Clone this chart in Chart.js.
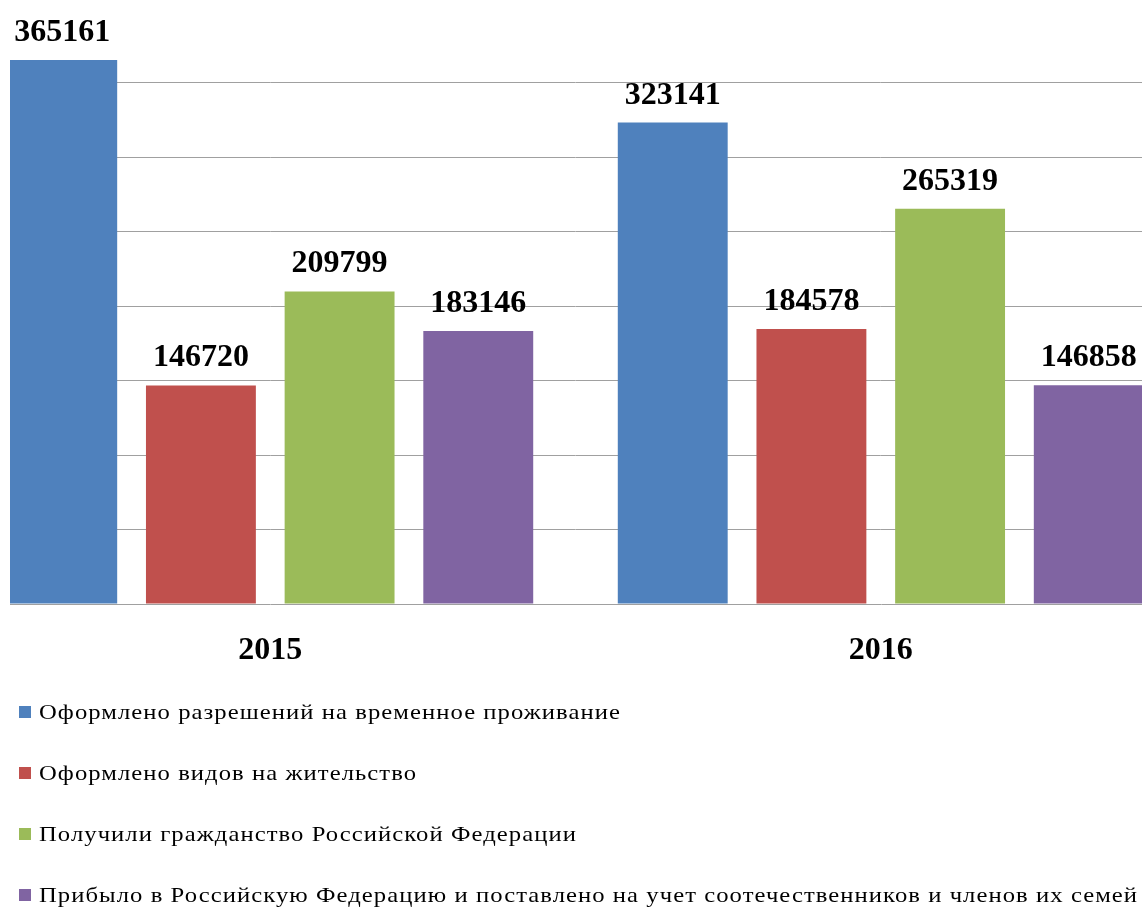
<!DOCTYPE html>
<html>
<head>
<meta charset="utf-8">
<script src="https://cdn.jsdelivr.net/npm/chart.js@4/dist/chart.umd.min.js"></script>
<style>
  html, body { margin: 0; padding: 0; background: #ffffff; width: 1142px; height: 909px; overflow: hidden; position: relative; }
  #clip { position: absolute; left: 10px; top: 0; width: 1132px; height: 690px; overflow: hidden; }
  #c { position: absolute; left: -45px; top: 0; }
  #legend { position: absolute; left: 0; top: 0; width: 1142px; height: 909px; }
  .row { position: absolute; left: 0; height: 30px; white-space: nowrap; }
  .box { position: absolute; left: 19px; top: 9px; width: 12px; height: 12px; }
  .txt { position: absolute; left: 39px; top: 0; line-height: 30px; font-family: 'Liberation Serif', 'Times New Roman', serif; font-size: 22px; letter-spacing: 0.95px; color: #000; transform: scaleX(1.12); transform-origin: 0 50%; }
</style>
</head>
<body>
<div id="clip"><canvas id="c" width="1221" height="690" style="width:1221px;height:690px"></canvas></div>
<div id="legend"></div>
<script>
const categories = ['2015', '2016'];
const seriesNames = [
  'Оформлено разрешений на временное проживание',
  'Оформлено видов на жительство',
  'Получили гражданство Российской Федерации',
  'Прибыло в Российскую Федерацию и поставлено на учет соотечественников и членов их семей'
];
const permitsTemp = [365161, 323141];
const residencePermits = [146720, 184578];
const citizenship = [209799, 265319];
const compatriots = [183146, 146858];
const seriesColors = ['#4F81BD', '#C0504D', '#9BBB59', '#8064A2'];
const yTickStep = 50000;
const yMax = 400000;

const seriesValues = [permitsTemp, residencePermits, citizenship, compatriots];

const dataLabels = {
  id: 'dataLabels',
  afterDatasetsDraw(chart) {
    const ctx = chart.ctx;
    ctx.save();
    ctx.font = 'bold 32px "Liberation Serif", "Times New Roman", serif';
    ctx.fillStyle = '#000';
    ctx.textAlign = 'center';
    ctx.textBaseline = 'alphabetic';
    chart.data.datasets.forEach((ds, i) => {
      const meta = chart.getDatasetMeta(i);
      meta.data.forEach((bar, j) => {
        ctx.fillText(String(ds.data[j]), bar.x, bar.y - 19);
      });
    });
    ctx.restore();
  }
};

new Chart(document.getElementById('c'), {
  type: 'bar',
  data: {
    labels: categories,
    datasets: seriesNames.map((name, i) => ({
      label: name,
      data: seriesValues[i],
      backgroundColor: seriesColors[i],
      borderWidth: 0,
      categoryPercentage: 0.9086,
      barPercentage: 0.7925
    }))
  },
  options: {
    responsive: false,
    animation: false,
    devicePixelRatio: 1,
    layout: { padding: { left: 0, right: 0, top: 8, bottom: 0 } },
    plugins: { legend: { display: false }, tooltip: { enabled: false } },
    scales: {
      x: {
        grid: { display: false, drawTicks: false },
        border: { display: true, color: '#a0a0a0', width: 1 },
        ticks: {
          color: '#000',
          padding: 28,
          font: { family: '"Liberation Serif", "Times New Roman", serif', size: 32, weight: 'bold' }
        },
        afterFit(scale) { scale.height = 86; }
      },
      y: {
        min: 0,
        max: yMax,
        ticks: { display: false, stepSize: yTickStep },
        border: { display: false },
        grid: {
          drawTicks: false,
          color: (c) => (c.tick && (c.tick.value === 0 || c.tick.value >= yMax)) ? 'rgba(0,0,0,0)' : '#a0a0a0',
          lineWidth: 1
        },
        afterFit(scale) { scale.width = 0; }
      }
    }
  },
  plugins: [dataLabels]
});

const legend = document.getElementById('legend');
const rowCenters = [712, 773, 834, 895];
seriesNames.forEach((name, i) => {
  const row = document.createElement('div');
  row.className = 'row';
  row.style.top = (rowCenters[i] - 15) + 'px';
  const box = document.createElement('div');
  box.className = 'box';
  box.style.background = seriesColors[i];
  const txt = document.createElement('span');
  txt.className = 'txt';
  txt.textContent = name;
  row.appendChild(box);
  row.appendChild(txt);
  legend.appendChild(row);
});
</script>
</body>
</html>
